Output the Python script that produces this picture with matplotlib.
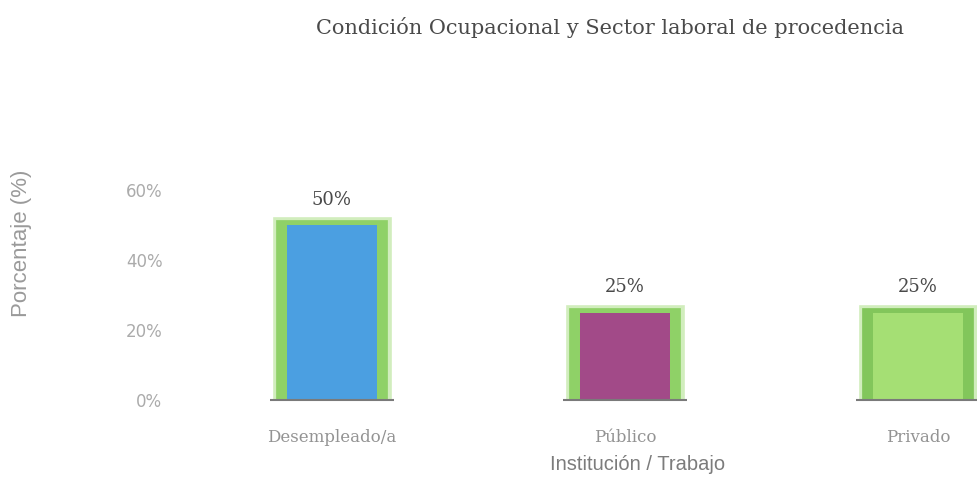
import numpy as np
import matplotlib.pyplot as plt
import matplotlib.patheffects as pe

# data
categories = ["Desempleado/a", "Público", "Privado"]
values = [50, 25, 25]
fill_colors = ["#4b9fe1", "#a24a88", "#a5df74"]
edge_colors = ["#8fd167", "#8fd167", "#82c65b"]
yticks = [0, 20, 40, 60]
ytick_labels = ["0%", "20%", "40%", "60%"]

W, H = 978, 483
fig = plt.figure(figsize=(W / 100, H / 100), dpi=100)
ax = fig.add_axes([175 / W, (H - 400) / H, 1 - 175 / W, 210 / H])

x = np.arange(len(categories))
bw_out = 0.345
bw_in = 0.31

# green fuzzy frame behind, coloured fill on top
frames = ax.bar(x, values, width=bw_out, color=edge_colors, edgecolor=edge_colors,
                linewidth=7, zorder=2)
for b in frames:
    b.set_path_effects([pe.Stroke(linewidth=12, foreground="#c6e9ad", alpha=0.8),
                        pe.Normal()])
ax.bar(x, values, width=bw_in, color=fill_colors, zorder=3)

# short grey base line under each bar
ax.hlines(np.zeros(len(x)), x - bw_out / 2 - 0.04, x + bw_out / 2 + 0.04,
          color="#7a7a7a", linewidth=1.5, zorder=4, clip_on=False)

for xi, v in zip(x, values):
    ax.annotate(f"{v}%", (xi, v), xytext=(0, 18), textcoords="offset points",
                ha="center", va="center", family="DejaVu Serif",
                fontsize=13, color="#4a4a4a")

ax.set_xlim(-(332 - 175) / 293, 2 + (978 - 918) / 293)
ax.set_ylim(0, 60)
for s in ax.spines.values():
    s.set_visible(False)
ax.set_xticks(x)
ax.set_xticklabels(categories, family="DejaVu Serif", fontsize=12, color="#939393")
ax.set_yticks(yticks)
ax.set_yticklabels(ytick_labels, family="DejaVu Sans", fontsize=12, color="#ababab")
ax.tick_params(axis="both", length=0)
ax.tick_params(axis="y", pad=9)
ax.tick_params(axis="x", pad=21)

fig.text(610 / W, 1 - 28 / H, "Condición Ocupacional y Sector laboral de procedencia",
         ha="center", va="center", family="DejaVu Serif", fontsize=15, color="#4a4a4a")
fig.text(638 / W, 1 - 465 / H, "Institución / Trabajo", ha="center", va="center",
         family="Liberation Sans", fontsize=14.5, color="#7c7c7c")
fig.text(22 / W, 1 - 243 / H, "Porcentaje (%)", ha="center", va="center", rotation=90,
         family="Liberation Sans", fontsize=16, color="#9a9a9a")

fig.savefig("out.png", dpi=100)
